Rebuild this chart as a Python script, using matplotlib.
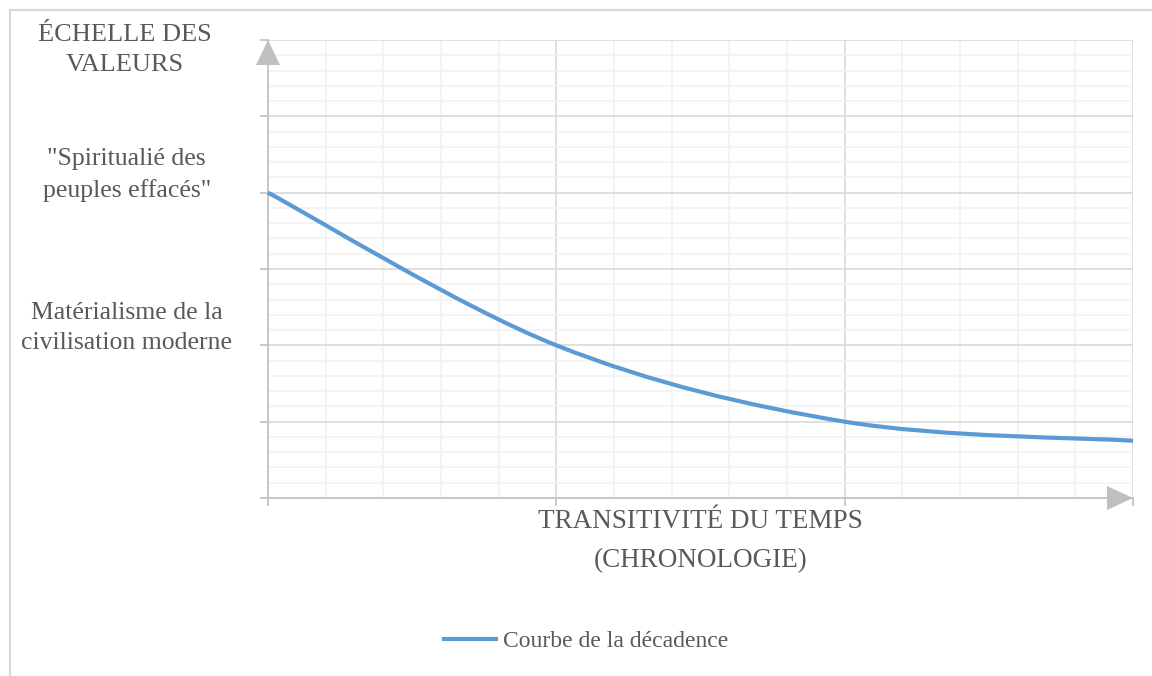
import matplotlib.pyplot as plt
from matplotlib.path import Path
from matplotlib.patches import PathPatch, Polygon, Rectangle
from matplotlib.lines import Line2D

# données
temps = [0, 1, 2, 3]
valeurs = [4.0, 2.0, 1.0, 0.75]
serie_nom = "Courbe de la décadence"
titre_y = "ÉCHELLE DES\nVALEURS"
etiquettes_y = ['"Spiritualié des\npeuples effacés"', "Matérialisme de la\ncivilisation moderne"]
pos_etiquettes_y = [4.23, 2.23]
titre_x = "TRANSITIVITÉ DU TEMPS\n(CHRONOLOGIE)"

gris_texte = '#595959'
bleu = '#5b9bd5'
plt.rcParams['font.family'] = ['Liberation Serif', 'DejaVu Serif']

W, H = 1152, 676
fig = plt.figure(figsize=(W / 100, H / 100), dpi=100)
ax = fig.add_axes([268 / W, 1 - 498 / H, (1133 - 268) / W, (498 - 40) / H])

ax.set_xlim(0, 3)
ax.set_ylim(0, 6)
ax.set_xticks([0, 1, 2, 3])
ax.set_xticks([i / 5 for i in range(16)], minor=True)
ax.set_yticks(range(7))
ax.set_yticks([i / 5 for i in range(31)], minor=True)
ax.set_xticklabels([])
ax.set_yticklabels([])
ax.grid(which='major', color='#d9d9d9', linewidth=1.2)
ax.grid(which='minor', color='#f2f2f2', linewidth=1.2)
ax.set_axisbelow(True)
ax.tick_params(which='major', length=6, width=1.2, color='#bfbfbf', direction='out')
ax.tick_params(which='minor', length=0)
for s in ['top', 'right']:
    ax.spines[s].set_visible(False)
for s in ['left', 'bottom']:
    ax.spines[s].set_color('#bfbfbf')
    ax.spines[s].set_linewidth(1.2)

# courbe lissée (bézier à la manière d'Excel)
pts = list(zip(temps, valeurs))
verts = [pts[0]]
codes = [Path.MOVETO]
for i in range(len(pts) - 1):
    p0 = pts[i - 1] if i > 0 else pts[i]
    p1, p2 = pts[i], pts[i + 1]
    p3 = pts[i + 2] if i + 2 < len(pts) else pts[i + 1]
    c1 = (p1[0] + (p2[0] - p0[0]) / 6, p1[1] + (p2[1] - p0[1]) / 6)
    c2 = (p2[0] - (p3[0] - p1[0]) / 6, p2[1] - (p3[1] - p1[1]) / 6)
    verts += [c1, c2, p2]
    codes += [Path.CURVE4] * 3
ax.add_patch(PathPatch(Path(verts, codes), facecolor='none', edgecolor=bleu,
                       linewidth=3, capstyle='butt', clip_on=False, zorder=3))

# flèches des axes (pixels, origine en haut)
fl = dict(color='#bfbfbf', clip_on=False, zorder=4, lw=0, transform=None)
fleche_y = [(256, 65), (280, 65), (268, 40)]
fleche_x = [(1107, 486), (1107, 510), (1133, 498)]
for tri in (fleche_y, fleche_x):
    fig.patches.append(Polygon([(x, H - y) for x, y in tri], **fl))

# textes de l'axe vertical
fig.text(125 / W, 1 - 50 / H, titre_y, ha='center', va='center',
         fontsize=19, color=gris_texte, linespacing=1.45)
for lab, yv in zip(etiquettes_y, pos_etiquettes_y):
    ax.text(-0.49, yv, lab, ha='center', va='center', fontsize=18.5,
            color=gris_texte, linespacing=1.5)
ax.text(1.5, -0.565, titre_x, ha='center', va='center', fontsize=19.5,
        color=gris_texte, linespacing=1.75)

# légende
leg = ax.legend([Line2D([0], [0], color=bleu, lw=3)], [serie_nom],
                loc='center', bbox_to_anchor=(586 / W, 1 - 641 / H),
                bbox_transform=fig.transFigure, frameon=False,
                fontsize=17, handlelength=2.2, handletextpad=0.3)
for t in leg.get_texts():
    t.set_color(gris_texte)

# cadre du graphique
fig.patches.append(Rectangle((10 / W, -0.1), 1.2, 1 - 10 / H + 0.1,
                             transform=fig.transFigure, fill=False,
                             edgecolor='#d9d9d9', linewidth=1.5))

fig.savefig('out.png', dpi=100)
